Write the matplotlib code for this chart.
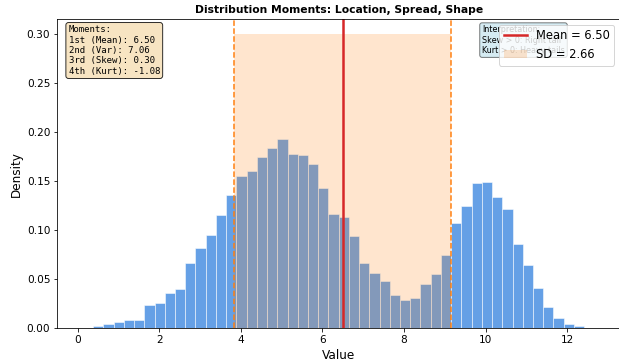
import numpy as np
import matplotlib.pyplot as plt

# histogram densities (50 bins)
bin_lo, bin_hi = 0.127, 12.67
densities = [0.0005, 0.0024, 0.0041, 0.0061, 0.0081, 0.0085, 0.0234, 0.0254, 0.0356, 0.0403,
             0.0668, 0.0814, 0.0949, 0.1149, 0.1353, 0.1553, 0.1600, 0.1742, 0.1841, 0.1932,
             0.1773, 0.1763, 0.1678, 0.1424, 0.1169, 0.1132, 0.0936, 0.0661, 0.0563, 0.0478,
             0.0336, 0.0292, 0.0312, 0.0447, 0.0556, 0.0746, 0.1071, 0.1244, 0.1475, 0.1495,
             0.1339, 0.1214, 0.0858, 0.0647, 0.0407, 0.0220, 0.0102, 0.0044, 0.0020, 0.0005]

mean_val = 6.50
sd_val = 2.66
moments = {"1st (Mean)": 6.50, "2nd (Var)": 7.06, "3rd (Skew)": 0.30, "4th (Kurt)": -1.08}
fill_top = 0.30

edges = np.linspace(bin_lo, bin_hi, len(densities) + 1)

fig = plt.figure(figsize=(619 / 72, 363 / 72), dpi=72)
ax = fig.add_axes([0.0926, 0.0956, 0.909, 0.852])

ax.bar(edges[:-1], densities, width=np.diff(edges), align="edge",
       color="#4a90e2", alpha=0.85, edgecolor="white", linewidth=0.6)

ax.axvline(mean_val, color="#d62728", linewidth=2.5, label=f"Mean = {mean_val:.2f}")
ax.axvline(mean_val - sd_val, color="#ff7f0e", linestyle="--", linewidth=1.5)
ax.axvline(mean_val + sd_val, color="#ff7f0e", linestyle="--", linewidth=1.5)
ax.fill_between([mean_val - sd_val, mean_val + sd_val], 0, fill_top,
                color="#ff7f0e", alpha=0.2, linewidth=0, label=f"SD = {sd_val:.2f}")

mtext = "Moments:\n" + "\n".join(f"{k}: {v:.2f}" for k, v in moments.items())
ax.text(0.02, 0.98, mtext, transform=ax.transAxes, va="top", ha="left",
        fontsize=9, family="monospace",
        bbox=dict(boxstyle="round", facecolor="wheat", alpha=0.8))
ax.text(0.755, 0.98, "Interpretation:\nSkew > 0: Right tail\nKurt > 0: Heavy tails",
        transform=ax.transAxes, va="top", ha="left", fontsize=8,
        bbox=dict(boxstyle="round", facecolor="lightblue", alpha=0.5))

ax.legend(loc="upper right", fontsize=11.5)
ax.set_xlabel("Value", fontsize=12)
ax.set_ylabel("Density", fontsize=12)
ax.set_title("Distribution Moments: Location, Spread, Shape", fontsize=10.7, fontweight="bold")
ax.set_yticks([0.0, 0.05, 0.10, 0.15, 0.20, 0.25, 0.30])
ax.set_yticklabels(["0.00", "0.05", "0.10", "0.15", "0.20", "0.25", "0.30"])
ax.tick_params(labelsize=10.5)

fig.savefig("out.png", dpi=72)
